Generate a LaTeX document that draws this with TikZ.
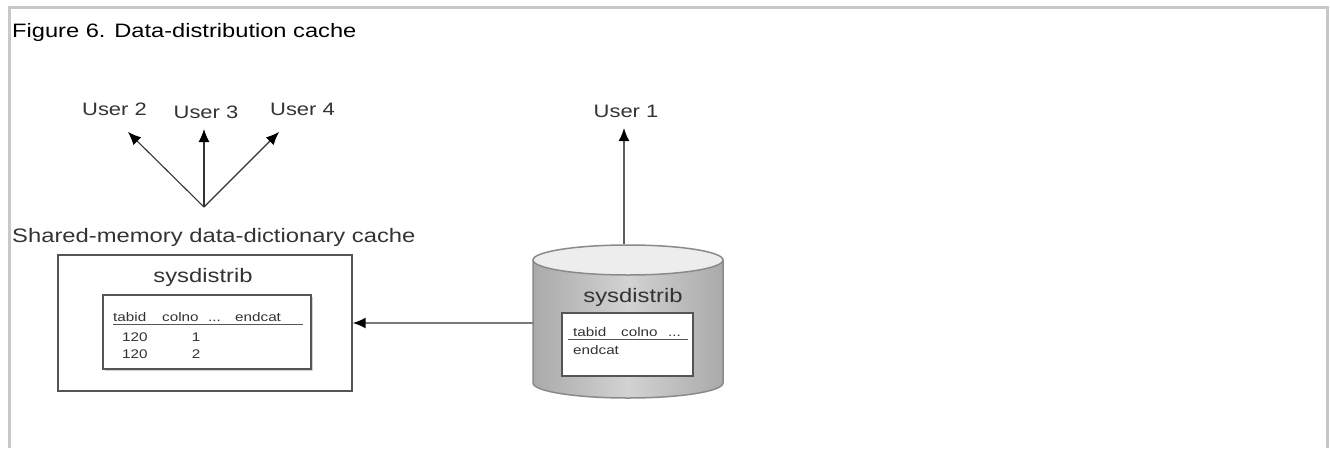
\documentclass[tikz,border=0pt]{standalone}
\usepackage{fontspec}
\setmainfont{Liberation Sans}
\newfontfamily\diafont[FakeStretch=1.22]{Liberation Sans}
\usetikzlibrary{arrows.meta,shadows}
\definecolor{framegray}{HTML}{C8C8C8}
\definecolor{ink}{HTML}{333333}
\definecolor{linegray}{HTML}{7A7A7A}
\definecolor{boxline}{HTML}{555555}
\definecolor{cylline}{HTML}{8A8A8A}
\definecolor{cylside}{HTML}{AAAAAA}
\definecolor{cylmid}{HTML}{D2D2D2}
\definecolor{cyltop}{HTML}{EDEDED}
\tikzset{
  lbl/.style={inner sep=0pt, text=ink, font=\diafont\fontsize{18}{20}\selectfont},
  biglbl/.style={inner sep=0pt, text=ink, font=\diafont\fontsize{19.5}{22}\selectfont},
  tbl/.style={inner sep=0pt, text=ink, font=\diafont\fontsize{12.5}{14}\selectfont},
  arr/.style={draw=ink, line width=1.1pt, -{Latex[length=13pt,width=11pt,color=black]}},
  grayarr/.style={draw=linegray, line width=1.6pt, -{Latex[length=13pt,width=11pt,color=black]}},
  outerbox/.style={draw=boxline, line width=1.4pt, fill=white, inner sep=0pt},
  tblbox/.style={draw=boxline, line width=1.3pt, fill=white, inner sep=0pt},
}
\begin{document}
\begin{tikzpicture}[x=1pt,y=-1pt]
\useasboundingbox (0,0) rectangle (1330,448);
\fill[white] (0,0) rectangle (1330,448);
% frame
\draw[framegray, line width=3pt] (9.5,448) -- (9.5,7.5) -- (1327.5,7.5) -- (1327.5,448);
% title
\node[anchor=base west, inner sep=0pt, text=black, font=\diafont\fontsize{19.4}{22}\selectfont] (title) at (12,37) {Figure 6. Data-distribution cache};

% users
\node[lbl, anchor=base] (u2) at (114.5,115) {User 2};
\node[lbl, anchor=base] (u3) at (206,118) {User 3};
\node[lbl, anchor=base] (u4) at (302.5,115) {User 4};
\node[lbl, anchor=base] (u1) at (626,117) {User 1};

\coordinate (hub) at (204,207);
\coordinate (t2) at (128,132);
\coordinate (t3) at (204,129);
\coordinate (t4) at (279,132);
\draw[arr] (hub) -- (t2);
\draw[arr] (hub) -- (t3);
\draw[arr] (hub) -- (t4);

% shared memory cache
\node[biglbl, anchor=base west] (shlbl) at (12,242) {Shared-memory data-dictionary cache};
\node[outerbox, minimum width=294pt, minimum height=136pt] (cache) at (205,323) {};
\node[biglbl, anchor=base] (sd1) at (203,282) {sysdistrib};
\node[tblbox, minimum width=208pt, minimum height=74pt,
      drop shadow={shadow xshift=1.5pt, shadow yshift=-1.5pt, opacity=0.35}] (tab1) at (207,332) {};
\node[tbl, anchor=base west] (h1) at (113,321) {tabid};
\node[tbl, anchor=base west] (h2) at (162,321) {colno};
\node[tbl, anchor=base west] (h3) at (208,321) {...};
\node[tbl, anchor=base west] (h4) at (235,321) {endcat};
\draw[boxline, line width=1pt] (113,324.5) -- (303,324.5);
\node[tbl, anchor=base west] (r1a) at (122,341) {120};
\node[tbl, anchor=base] (r1b) at (196,341) {1};
\node[tbl, anchor=base west] (r2a) at (122,358) {120};
\node[tbl, anchor=base] (r2b) at (196,358) {2};

% cylinder
\path[left color=cylside, right color=cylside, middle color=cylmid]
  (533,260) -- (533,383) arc[start angle=180, end angle=0, x radius=95, y radius=15]
  -- (723,260) arc[start angle=0, end angle=180, x radius=95, y radius=15] -- cycle;
\draw[cylline, line width=1.5pt]
  (533,260) -- (533,383) arc[start angle=180, end angle=0, x radius=95, y radius=15]
  -- (723,260);
\draw[cylline, line width=1.5pt, fill=cyltop] (628,260) ellipse [x radius=95, y radius=15];
\node[minimum width=190pt, minimum height=153pt, inner sep=0pt] (db) at (628,321.5) {};
\node[biglbl, anchor=base] (sd2) at (633,302) {sysdistrib};
\node[tblbox, minimum width=131pt, minimum height=63pt] (tab2) at (627.5,344.5) {};
\node[tbl, anchor=base west] (k1) at (573,336) {tabid};
\node[tbl, anchor=base west] (k2) at (621,336) {colno};
\node[tbl, anchor=base west] (k3) at (668,336) {...};
\draw[boxline, line width=1pt] (568,339.5) -- (688,339.5);
\node[tbl, anchor=base west] (k4) at (573,354) {endcat};

% connectors
\coordinate (c1) at (624,244);
\coordinate (t1) at (624,128);
\draw[grayarr, draw=ink!80] (c1) -- (t1);
\draw[grayarr] (db.west |- cache.east) -- (cache.east);
\end{tikzpicture}
\end{document}
